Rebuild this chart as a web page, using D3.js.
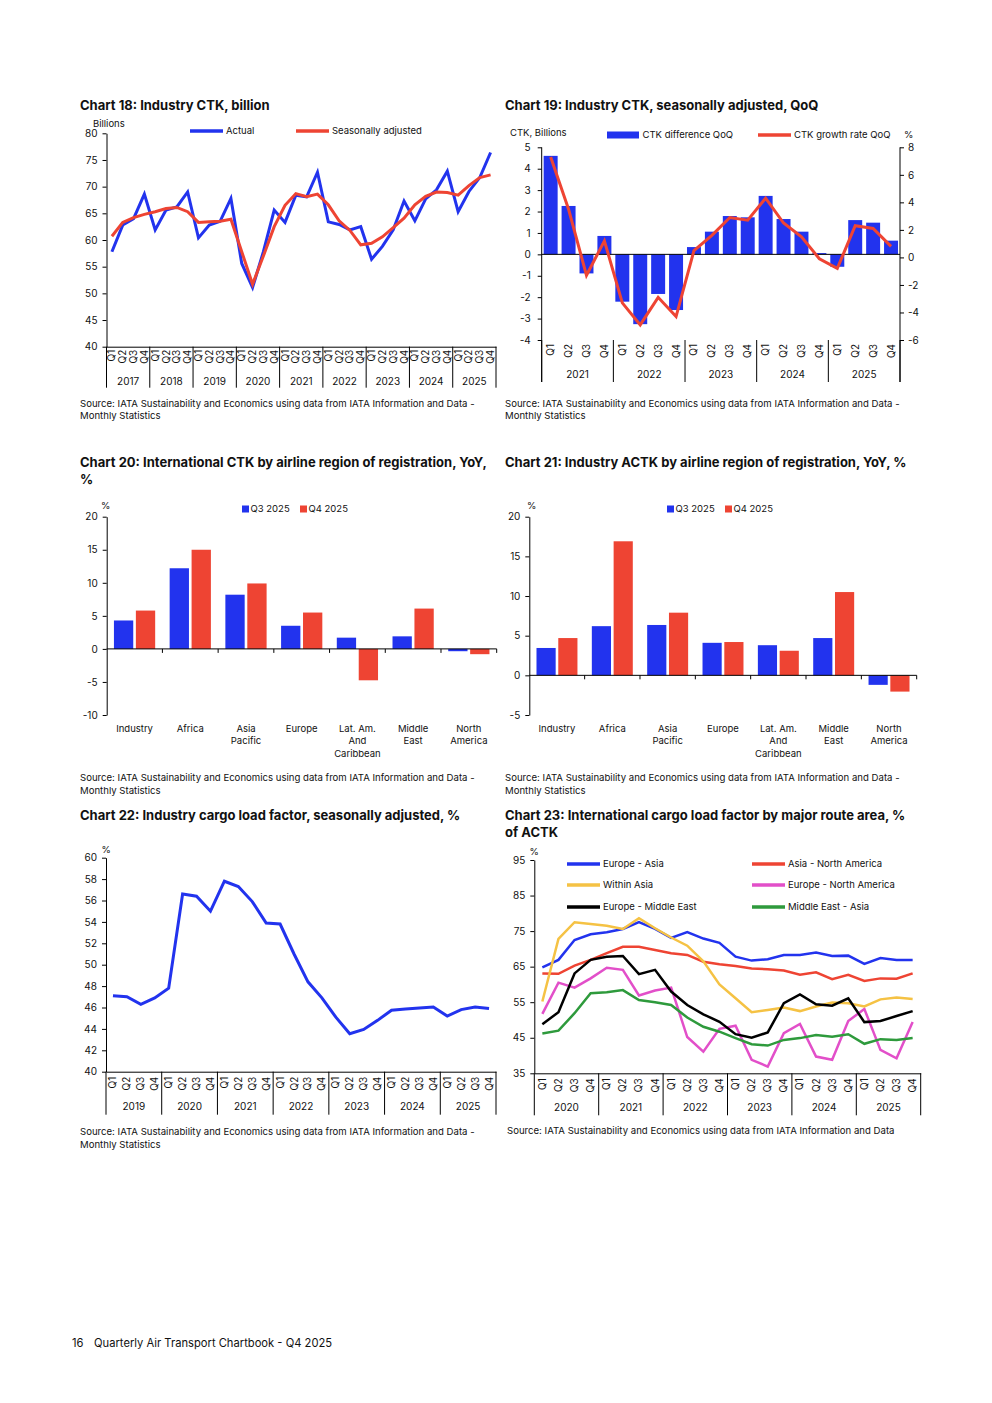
<!DOCTYPE html>
<html>
<head>
<meta charset="utf-8">
<title>Quarterly Air Transport Chartbook - Q4 2025</title>
<script src="https://d3js.org/d3.v7.min.js"></script>
<style>
  body { margin: 0; background: #fff; }
  svg text { font-family: Inter, Roboto, "Noto Sans", sans-serif; fill: #111; }
  .title { font-size: 13px; font-weight: 700; }
  .tick text { font-size: 10px; }
  .lbl { font-size: 9.5px; }
  .src { font-size: 9.6px; }
  .foot { font-size: 11.2px; }
</style>
</head>
<body>
<svg id="page" width="992" height="1403"></svg>
<script>
var quarters = ['Q1', 'Q2', 'Q3', 'Q4'];

// Chart 18: industry CTK, billion
var ctkYears = ['2017', '2018', '2019', '2020', '2021', '2022', '2023', '2024', '2025'];
var ctkActual = [57.8, 62.8, 64.0, 68.6, 61.9, 65.6, 66.2, 69.0, 60.4, 62.8, 63.5, 67.8,
                 55.6, 51.1, 57.8, 65.6, 63.3, 68.4, 68.1, 72.7, 63.4, 62.9, 61.9, 62.5,
                 56.4, 58.8, 61.9, 67.3, 63.6, 67.7, 69.4, 72.9, 65.3, 69.1, 71.7, 76.4];
var ctkSeasAdj = [60.7, 63.3, 64.2, 64.8, 65.3, 65.9, 66.1, 65.3, 63.3, 63.4, 63.5, 63.9,
                  57.8, 51.7, 57.0, 62.5, 66.5, 68.7, 68.1, 68.6, 66.6, 63.6, 61.8, 59.1,
                  59.4, 60.6, 62.3, 64.1, 66.6, 68.2, 69.0, 68.9, 68.4, 70.2, 71.7, 72.2];

// Chart 19: CTK seasonally adjusted, QoQ
var qoqYears = ['2021', '2022', '2023', '2024', '2025'];
var qoqDiff = [4.60, 2.26, -0.89, 0.86, -2.21, -3.26, -1.85, -2.60,
               0.34, 1.06, 1.79, 1.73, 2.73, 1.65, 1.06, 0.06, -0.58, 1.60, 1.48, 0.64];
var qoqRate = [7.3, 3.5, -1.3, 1.2, -3.3, -4.9, -2.9, -4.3,
               0.5, 1.6, 2.9, 2.7, 4.3, 2.5, 1.5, -0.1, -0.8, 2.3, 2.1, 0.8];

// Charts 20 and 21: by airline region, YoY %
var regions = ['Industry', 'Africa', 'Asia Pacific', 'Europe', 'Lat. Am. And Caribbean', 'Middle East', 'North America'];
var regionLabels = [['Industry'], ['Africa'], ['Asia', 'Pacific'], ['Europe'], ['Lat. Am.', 'And', 'Caribbean'], ['Middle', 'East'], ['North', 'America']];
var periods = ['Q3 2025', 'Q4 2025'];
var intlCtkQ3 = [4.3, 12.2, 8.2, 3.5, 1.7, 1.9, -0.35];
var intlCtkQ4 = [5.8, 15.0, 9.9, 5.5, -4.75, 6.1, -0.8];
var actkQ3 = [3.45, 6.2, 6.35, 4.1, 3.8, 4.7, -1.2];
var actkQ4 = [4.7, 16.9, 7.9, 4.2, 3.1, 10.5, -2.05];

// Chart 22: industry cargo load factor, SA %
var clfYears = ['2019', '2020', '2021', '2022', '2023', '2024', '2025'];
var clf = [47.1, 47.0, 46.3, 46.9, 47.8, 56.6, 56.4, 55.0, 57.8, 57.3, 55.9, 53.9,
           53.8, 51.0, 48.4, 46.9, 45.1, 43.55, 43.95, 44.8, 45.75, 45.85, 45.95, 46.05,
           45.2, 45.8, 46.05, 45.9];

// Chart 23: international cargo load factor by route area, %
var routeYears = ['2020', '2021', '2022', '2023', '2024', '2025'];
var routeNames = ['Europe - Asia', 'Asia - North America', 'Within Asia', 'Europe - North America', 'Europe - Middle East', 'Middle East - Asia'];
var europeAsia = [64.8, 66.9, 72.5, 74.1, 74.7, 75.6, 77.5, 75.6, 73.1, 74.7, 72.9, 71.7,
                  67.8, 66.7, 67.1, 68.3, 68.3, 69.0, 68.0, 68.1, 65.8, 67.4, 66.9, 66.9];
var asiaNorthAmerica = [63.1, 63.0, 65.3, 66.9, 68.8, 70.6, 70.6, 69.7, 68.8, 68.3, 66.4, 65.7,
                        65.2, 64.5, 64.3, 63.9, 62.7, 63.4, 61.5, 62.7, 61.0, 61.7, 61.6, 63.1];
var withinAsia = [55.2, 72.8, 77.5, 77.0, 76.5, 75.6, 78.6, 75.8, 73.2, 70.9, 66.5, 60.0,
                  56.1, 52.2, 52.8, 53.5, 52.5, 53.8, 54.9, 54.7, 53.8, 55.8, 56.3, 55.9];
var europeNorthAmerica = [51.7, 60.5, 59.1, 61.7, 64.7, 64.1, 56.9, 58.3, 59.1, 45.2, 41.1, 47.5,
                          48.4, 38.8, 36.9, 46.3, 48.9, 39.7, 38.8, 49.7, 53.1, 41.6, 39.2, 49.4];
var europeMiddleEast = [48.8, 52.2, 63.1, 66.9, 67.8, 68.0, 62.9, 64.1, 58.0, 54.2, 51.6, 49.5,
                        46.0, 45.0, 46.5, 54.7, 57.2, 54.4, 54.0, 56.1, 49.4, 49.7, 51.1, 52.5];
var middleEastAsia = [46.2, 47.0, 51.9, 57.5, 57.8, 58.4, 55.6, 55.0, 54.2, 50.7, 48.1, 46.7,
                      44.9, 43.2, 42.8, 44.4, 44.9, 45.8, 45.3, 46.0, 43.3, 44.6, 44.4, 44.9];

var BLUE = '#2233ee', RED = '#ee4433';
var plain = function (d) { return String(d); };  // hyphen minus, as in the source

var svg = d3.select('#page');
svg.append('rect').attr('width', 992).attr('height', 1403).attr('fill', '#fff');

function textLines(cls, lines, x, y, lh) {
  var t = svg.append('text').attr('class', cls).attr('x', x).attr('y', y);
  lines.forEach(function (s, i) {
    t.append('tspan').attr('x', x).attr('dy', i ? lh : 0).text(s);
  });
  return t;
}

function qKeys(years) {
  return years.flatMap(function (y) { return quarters.map(function (q) { return y + ' ' + q; }); });
}

// rotated quarter labels, year labels and year separators under a quarterly x scale
function quarterAxis(x, years, y0, qTop, yearY, bottom, withLine) {
  var g = svg.append('g').attr('transform', 'translate(0,' + y0 + ')')
    .call(d3.axisBottom(x).tickSize(0).tickSizeOuter(0).tickFormat(function (d) { return d.split(' ')[1]; }));
  if (withLine) g.select('.domain').attr('stroke', '#000');
  else g.select('.domain').remove();
  g.selectAll('.tick text')
    .attr('transform', 'rotate(-90)')
    .attr('x', -qTop).attr('y', 0).attr('dy', '0.35em')
    .attr('text-anchor', 'end');

  var yr = d3.scaleBand().domain(years).range(x.range());
  var g2 = svg.append('g').attr('transform', 'translate(0,' + (y0 + yearY) + ')')
    .call(d3.axisBottom(yr).tickSize(0));
  g2.select('.domain').remove();
  g2.selectAll('.tick text').attr('y', 0).attr('dy', '0.35em');

  var edges = years.map(function (d) { return yr(d); }).concat([yr.range()[1]]);
  svg.append('g').selectAll('line').data(edges).join('line')
    .attr('x1', function (d) { return d; }).attr('x2', function (d) { return d; })
    .attr('y1', y0).attr('y2', y0 + bottom)
    .attr('stroke', '#000');
}

function yAxisLeft(y, ticks, x0, pad) {
  var g = svg.append('g').attr('transform', 'translate(' + x0 + ',0)')
    .call(d3.axisLeft(y).tickValues(ticks).tickFormat(plain).tickSize(4).tickSizeOuter(0).tickPadding(pad));
  g.select('.domain').attr('stroke', '#000');
  g.selectAll('.tick line').attr('stroke', '#000');
  return g;
}

function lineLegend(x, y, color, label, w) {
  svg.append('line').attr('x1', x).attr('x2', x + (w || 33)).attr('y1', y).attr('y2', y)
    .attr('stroke', color).attr('stroke-width', 3.5);
  svg.append('text').attr('class', 'lbl').attr('x', x + (w || 33) + 3).attr('y', y).attr('dy', '0.35em').text(label);
}

function drawLine(x, keys, y, values, color, width) {
  var line = d3.line()
    .x(function (d, i) { return x(keys[i]) + x.bandwidth() / 2; })
    .y(function (d) { return y(d); });
  svg.append('path').datum(values).attr('d', line)
    .attr('fill', 'none').attr('stroke', color).attr('stroke-width', width);
}

var srcLines = ['Source: IATA Sustainability and Economics using data from IATA Information and Data -', 'Monthly Statistics'];

// ---------- Chart 18 ----------
(function () {
  var keys = qKeys(ctkYears);
  var x = d3.scaleBand().domain(keys).range([106.5, 496]);
  var y = d3.scaleLinear().domain([40, 80]).range([346.7, 133.3]);
  textLines('title', ['Chart 18: Industry CTK, billion'], 80, 109.5, 17);
  svg.append('text').attr('class', 'lbl').attr('x', 93).attr('y', 126.5).text('Billions');
  yAxisLeft(y, d3.range(40, 81, 5), 106.5, 5);
  quarterAxis(x, ctkYears, 346.7, 3, 34.5, 41, true);
  drawLine(x, keys, y, ctkActual, BLUE, 3);
  drawLine(x, keys, y, ctkSeasAdj, RED, 3);
  lineLegend(190, 131, BLUE, 'Actual');
  lineLegend(296, 131, RED, 'Seasonally adjusted');
  textLines('src', srcLines, 80, 407, 12.3);
})();

// ---------- Chart 19 ----------
(function () {
  var keys = qKeys(qoqYears);
  var x = d3.scaleBand().domain(keys).range([541.7, 900]);
  var yL = d3.scaleLinear().domain([-4, 5]).range([340, 147.3]);
  var yR = d3.scaleLinear().domain([-6, 8]).range([340, 147.3]);
  textLines('title', ['Chart 19: Industry CTK, seasonally adjusted, QoQ'], 505, 109.5, 17);
  svg.append('text').attr('class', 'lbl').attr('x', 510).attr('y', 135.5).text('CTK, Billions');
  svg.append('text').attr('class', 'lbl').attr('x', 904).attr('y', 138).text('%');

  var bw = x.bandwidth() * 0.78;
  svg.append('g').selectAll('rect').data(qoqDiff).join('rect')
    .attr('x', function (d, i) { return x(keys[i]) + (x.bandwidth() - bw) / 2; })
    .attr('width', bw)
    .attr('y', function (d) { return yL(Math.max(0, d)); })
    .attr('height', function (d) { return Math.abs(yL(d) - yL(0)); })
    .attr('fill', BLUE);

  var gl = yAxisLeft(yL, d3.range(-4, 6, 1), 541.7, 7);
  gl.select('.domain').remove();
  var gr = svg.append('g').attr('transform', 'translate(900,0)')
    .call(d3.axisRight(yR).tickValues(d3.range(-6, 9, 2)).tickFormat(plain).tickSize(4).tickSizeOuter(0).tickPadding(4));
  gr.select('.domain').remove();
  gr.selectAll('.tick line').attr('stroke', '#000');
  // axis lines running down through the category area
  svg.append('g').selectAll('line').data([541.7, 900]).join('line')
    .attr('x1', function (d) { return d; }).attr('x2', function (d) { return d; })
    .attr('y1', 147.3).attr('y2', 382).attr('stroke', '#000');
  svg.append('line').attr('x1', 541.7).attr('x2', 900).attr('y1', yL(0)).attr('y2', yL(0)).attr('stroke', '#000');

  quarterAxis(x, qoqYears, 340, 4, 34, 42, false);
  drawLine(x, keys, yR, qoqRate, RED, 3);

  svg.append('rect').attr('x', 607).attr('y', 131.5).attr('width', 32).attr('height', 7).attr('fill', BLUE);
  svg.append('text').attr('class', 'lbl').attr('x', 642.5).attr('y', 135).attr('dy', '0.35em').text('CTK difference QoQ');
  lineLegend(758, 135, RED, 'CTK growth rate QoQ');
  textLines('src', srcLines, 505, 407, 12.3);
})();

// ---------- Charts 20 and 21 ----------
function regionBars(opt) {
  var x = d3.scaleBand().domain(regions).range([opt.x0, opt.x1]);
  var xi = d3.scaleBand().domain(periods).range([0, x.bandwidth()]).paddingInner(0.12).paddingOuter(0.33);
  var y = d3.scaleLinear().domain(opt.domain).range([715, 516.7]);
  textLines('title', opt.title, opt.tx, 467, 17);
  svg.append('text').attr('class', 'lbl').attr('x', opt.pctX).attr('y', 509).text('%');

  var series = [opt.q3, opt.q4];
  var colors = [BLUE, RED];
  series.forEach(function (vals, s) {
    svg.append('g').selectAll('rect').data(vals).join('rect')
      .attr('x', function (d, i) { return x(regions[i]) + xi(periods[s]); })
      .attr('width', xi.bandwidth())
      .attr('y', function (d) { return y(Math.max(0, d)); })
      .attr('height', function (d) { return Math.abs(y(d) - y(0)); })
      .attr('fill', colors[s]);
  });

  yAxisLeft(y, d3.range(opt.domain[0], opt.domain[1] + 1, 5), opt.x0, 5);
  svg.append('line').attr('x1', opt.x0).attr('x2', opt.x1).attr('y1', y(0)).attr('y2', y(0)).attr('stroke', '#000');
  svg.append('g').selectAll('line').data(regions).join('line')
    .attr('x1', function (d) { return x(d) + x.step(); }).attr('x2', function (d) { return x(d) + x.step(); })
    .attr('y1', y(0)).attr('y2', y(0) + 4).attr('stroke', '#000');

  regions.forEach(function (r, i) {
    textLines('lbl', regionLabels[i], x(r) + x.bandwidth() / 2, 731.5, 12.5).attr('text-anchor', 'middle');
  });

  periods.forEach(function (p, s) {
    svg.append('rect').attr('x', opt.legX[s]).attr('y', 505.5).attr('width', 7).attr('height', 7).attr('fill', colors[s]);
    svg.append('text').attr('class', 'lbl').attr('x', opt.legX[s] + 8.5).attr('y', 509).attr('dy', '0.35em').text(p);
  });
  textLines('src', srcLines, opt.tx, 781, 12.8);
}

regionBars({
  title: ['Chart 20: International CTK by airline region of registration, YoY,', '%'],
  tx: 80, x0: 106.7, x1: 496.7, domain: [-10, 20], pctX: 101,
  q3: intlCtkQ3, q4: intlCtkQ4, legX: [242, 300]
});
regionBars({
  title: ['Chart 21: Industry ACTK by airline region of registration, YoY, %'],
  tx: 505, x0: 529.3, x1: 916.7, domain: [-5, 20], pctX: 527,
  q3: actkQ3, q4: actkQ4, legX: [667, 725]
});

// ---------- Chart 22 ----------
(function () {
  var keys = qKeys(clfYears);
  var x = d3.scaleBand().domain(keys).range([106, 496]);
  var y = d3.scaleLinear().domain([40, 60]).range([1071.7, 857.7]);
  textLines('title', ['Chart 22: Industry cargo load factor, seasonally adjusted, %'], 80, 820, 17);
  svg.append('text').attr('class', 'lbl').attr('x', 101.5).attr('y', 852.5).text('%');
  yAxisLeft(y, d3.range(40, 61, 2), 106, 5);
  quarterAxis(x, clfYears, 1071.7, 5, 34.5, 43, true);
  drawLine(x, keys, y, clf, BLUE, 3);
  textLines('src', srcLines, 80, 1135, 12.8);
})();

// ---------- Chart 23 ----------
(function () {
  var keys = qKeys(routeYears);
  var x = d3.scaleBand().domain(keys).range([534.3, 920.7]);
  var y = d3.scaleLinear().domain([35, 95]).range([1073.3, 860]);
  textLines('title', ['Chart 23: International cargo load factor by major route area, %', 'of ACTK'], 505, 820, 17);
  svg.append('text').attr('class', 'lbl').attr('x', 529.5).attr('y', 854.5).text('%');
  yAxisLeft(y, d3.range(35, 96, 10), 534.3, 5);
  quarterAxis(x, routeYears, 1073.3, 5, 34, 42, true);

  var series = [
    { v: europeAsia, c: BLUE },
    { v: asiaNorthAmerica, c: RED },
    { v: europeNorthAmerica, c: '#e24fc9' },
    { v: middleEastAsia, c: '#2e9a3c' },
    { v: withinAsia, c: '#f5c244' },
    { v: europeMiddleEast, c: '#000' }
  ];
  series.forEach(function (s) { drawLine(x, keys, y, s.v, s.c, 2.5); });

  lineLegend(567, 864, BLUE, routeNames[0]);
  lineLegend(567, 885, '#f5c244', routeNames[2]);
  lineLegend(567, 907, '#000', routeNames[4]);
  lineLegend(752, 864, RED, routeNames[1]);
  lineLegend(752, 885, '#e24fc9', routeNames[3]);
  lineLegend(752, 907, '#2e9a3c', routeNames[5]);
  textLines('src', ['Source: IATA Sustainability and Economics using data from IATA Information and Data'], 507, 1134, 12.8);
})();

// footer
svg.append('text').attr('class', 'foot').attr('x', 72).attr('y', 1346.5).text('16');
svg.append('text').attr('class', 'foot').attr('x', 94).attr('y', 1346.5).text('Quarterly Air Transport Chartbook - Q4 2025');
</script>
</body>
</html>
